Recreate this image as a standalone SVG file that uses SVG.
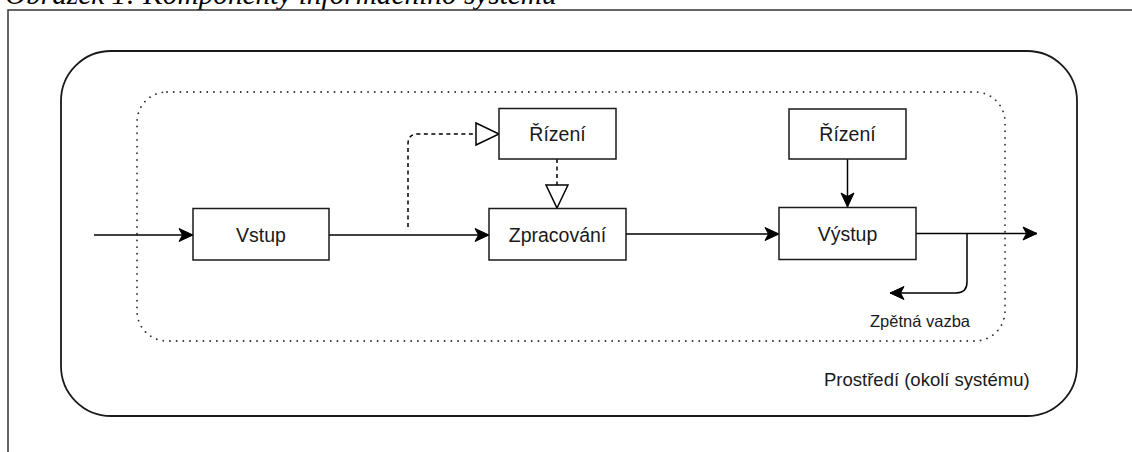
<svg xmlns="http://www.w3.org/2000/svg" width="1132" height="452" viewBox="0 0 1132 452">
  <style>
    .caption { font-family: "Liberation Serif", "Times New Roman", serif; font-style: italic; font-size: 29.3px; fill: #000; }
    .frame { fill: none; stroke: #333; stroke-width: 1.5; }
    .env { fill: none; stroke: #1a1a1a; stroke-width: 1.8; }
    .sys { fill: none; stroke: #333; stroke-width: 1.8; stroke-dasharray: 0.1 6.6; stroke-linecap: round; }
    .box { fill: #fff; stroke: #1a1a1a; stroke-width: 1.5; }
    .label { font-family: "Liberation Sans", Arial, sans-serif; font-size: 19.5px; fill: #1a1a1a; text-anchor: middle; }
    .small { font-family: "Liberation Sans", Arial, sans-serif; fill: #1a1a1a; }
    .flow { fill: none; stroke: #000; stroke-width: 1.5; }
    .ctrl { fill: none; stroke: #000; stroke-width: 1.5; stroke-dasharray: 4 3.5; }
  </style>
  <defs>
    <marker id="classic" markerUnits="userSpaceOnUse" markerWidth="16" markerHeight="14" viewBox="0 0 16 14" refX="15" refY="7" orient="auto" overflow="visible">
      <path d="M15,7 L1,0.5 L4.5,7 L1,13.5 Z" fill="#000" stroke="#000" stroke-width="1" stroke-linejoin="miter"/>
    </marker>
    <marker id="block-open" markerUnits="userSpaceOnUse" markerWidth="26" markerHeight="26" viewBox="0 0 26 26" refX="1" refY="13" orient="auto" overflow="visible">
      <path d="M1,2 L24,13 L1,24 Z" fill="#fff" stroke="#000" stroke-width="1.5" stroke-dasharray="none" stroke-linejoin="miter"/>
    </marker>
  </defs>

  <!-- figure caption (clipped by the page top) -->
  <text class="caption" x="5" y="3.5">Obrázek 1: Komponenty informačního systému</text>

  <!-- page frame -->
  <path class="frame" d="M1132,10 H8 V452"/>

  <!-- environment and system boundaries -->
  <g id="environment">
    <rect class="env" x="61" y="51" width="1016" height="365" rx="50" ry="50"/>
    <text class="small" x="824" y="386" font-size="18.5">Prostředí (okolí systému)</text>
  </g>
  <g id="system">
    <rect class="sys" x="137" y="92" width="868" height="249" rx="30" ry="30"/>
  </g>

  <!-- connectors -->
  <g id="connectors">
    <path class="flow" d="M94,235 H193" marker-end="url(#classic)"/>
    <path class="flow" d="M329,235 H489" marker-end="url(#classic)"/>
    <path class="ctrl" d="M408,227 V144 Q408,134 418,134 H476" marker-end="url(#block-open)"/>
    <path class="ctrl" d="M557,159 V185" marker-end="url(#block-open)"/>
    <path class="flow" d="M626,234 H779" marker-end="url(#classic)"/>
    <path class="flow" d="M847.5,159 V207" marker-end="url(#classic)"/>
    <path class="flow" d="M916,233.5 H1037" marker-end="url(#classic)"/>
    <path class="flow" d="M967,233.5 V282 Q967,293 956,293 H890" marker-end="url(#classic)"/>
    <text class="small" x="870" y="327" font-size="16.5">Zpětná vazba</text>
  </g>

  <!-- nodes -->
  <g id="vstup">
    <rect class="box" x="193" y="208.5" width="136" height="51.5"/>
    <text class="label" x="261" y="241.5">Vstup</text>
  </g>
  <g id="rizeni-zpracovani">
    <rect class="box" x="499" y="108.5" width="117" height="50.5"/>
    <text class="label" x="557.5" y="141">Řízení</text>
  </g>
  <g id="zpracovani">
    <rect class="box" x="489" y="208.5" width="137" height="51.5"/>
    <text class="label" x="557.5" y="241.5">Zpracování</text>
  </g>
  <g id="rizeni-vystup">
    <rect class="box" x="789" y="109" width="117" height="50"/>
    <text class="label" x="847.5" y="141">Řízení</text>
  </g>
  <g id="vystup">
    <rect class="box" x="779" y="207.5" width="137" height="52"/>
    <text class="label" x="847.5" y="240.5">Výstup</text>
  </g>
</svg>
